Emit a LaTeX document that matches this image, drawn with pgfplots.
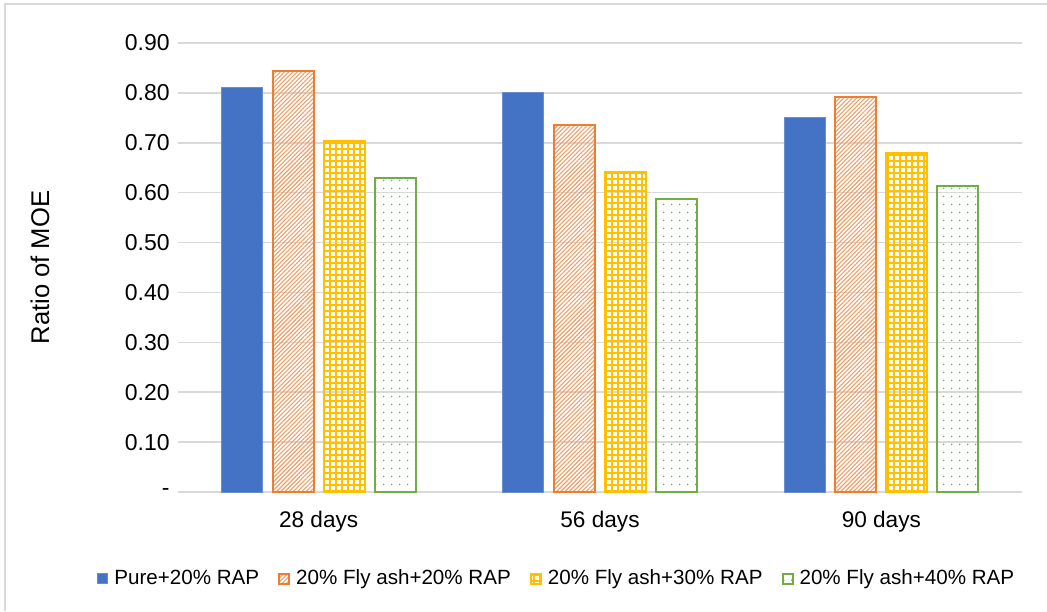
\documentclass[border=0pt]{standalone}
\usepackage{fontspec}
\setmainfont{Liberation Sans}
\usepackage{pgfplots}
\pgfplotsset{compat=1.18}
\usetikzlibrary{patterns.meta}
\definecolor{cblue}{HTML}{4472C4}
\definecolor{corange}{HTML}{ED7D31}
\definecolor{cyellow}{HTML}{FFC000}
\definecolor{cgreen}{HTML}{70AD47}
\definecolor{cgrid}{HTML}{D9D9D9}
\begin{document}
\begin{tikzpicture}
\useasboundingbox (-89pt,-59.5pt) rectangle (434.5pt,246pt);
\draw[cgrid, line width=0.75pt] (-86.5pt,-59.5pt) -- (-86.5pt,244pt) -- (434.5pt,244pt);
\begin{axis}[
  scale only axis,
  width=422pt, height=224.5pt,
  xmin=-0.5, xmax=2.5,
  ymin=0, ymax=0.9,
  ybar,
  bar width=0.146,
  xtick={0,1,2},
  xticklabels={28 days,56 days,90 days},
  ytick={0,0.1,0.2,0.3,0.4,0.5,0.6,0.7,0.8,0.9},
  yticklabels={-,0.10,0.20,0.30,0.40,0.50,0.60,0.70,0.80,0.90},
  major tick length=0pt,
  axis line style={draw=none},
  ymajorgrids,
  grid style={cgrid, line width=0.75pt},
  yticklabel style={font=\fontsize{11.5}{13}\selectfont, inner sep=0pt, xshift=-4pt},
  xticklabel style={font=\fontsize{11.3}{13}\selectfont, inner sep=0pt, yshift=-9.5pt},
  ylabel={Ratio of MOE},
  ylabel style={font=\fontsize{12.8}{14}\selectfont, at={(axis description cs:-0.1635,0.5)}, anchor=center},
  legend columns=4,
  legend style={draw=none, fill=none, font=\fontsize{10.3}{12}\selectfont,
    at={(axis description cs:0.450,-0.1935)}, anchor=center,
    inner sep=0pt,
    /tikz/every odd column/.style={column sep=1pt},
    /tikz/every even column/.style={column sep=7.5pt}},
  legend image code/.code={\draw[#1] (0pt,-2.5pt) rectangle (5pt,2.5pt);},
]
\addplot[bar shift=-0.2723, fill=cblue, draw=cblue!80!white, line width=0.5pt]
  coordinates {(0,0.810) (1,0.800) (2,0.750)};
\addlegendentry{Pure+20\% RAP}
\addplot[bar shift=-0.0908, draw=corange, line width=1pt,
  pattern={Lines[angle=45,distance=1.5pt,line width=0.55pt]}, pattern color=corange!75]
  coordinates {(0,0.844) (1,0.736) (2,0.792)};
\addlegendentry{20\% Fly ash+20\% RAP}
\addplot[bar shift=0.0908, draw=cyellow, line width=1pt,
  pattern={Hatch[angle=0,distance=3pt,line width=0.55pt]}, pattern color=cyellow]
  coordinates {(0,0.704) (1,0.641) (2,0.680)};
\addlegendentry{20\% Fly ash+30\% RAP}
\addplot[bar shift=0.2723, draw=cgreen, line width=1pt,
  pattern={Dots[distance=4pt,radius=0.45pt]}, pattern color=cgreen]
  coordinates {(0,0.629) (1,0.587) (2,0.613)};
\addlegendentry{20\% Fly ash+40\% RAP}
\end{axis}
\end{tikzpicture}
\end{document}
